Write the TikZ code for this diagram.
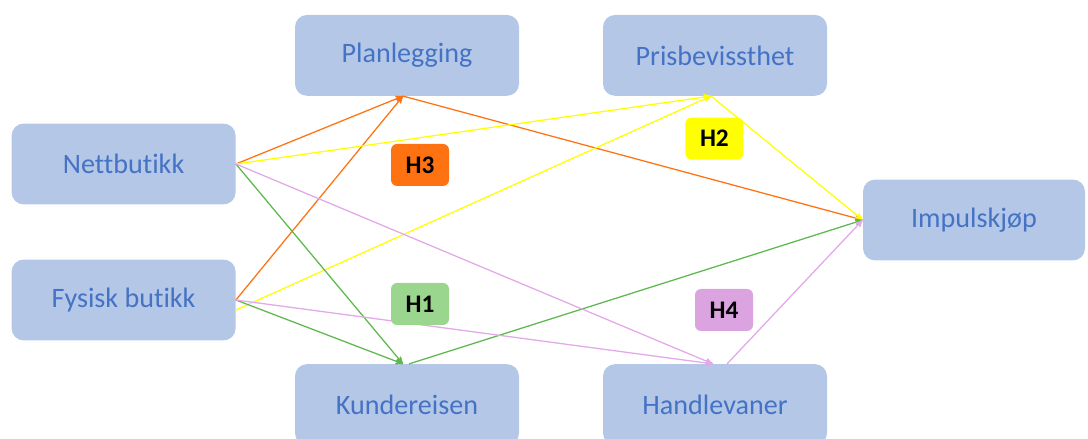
\documentclass[tikz,border=0pt]{standalone}
\usepackage{fontspec}
\setmainfont{Carlito}[Ligatures=NoCommon]
\usetikzlibrary{arrows, positioning}
\definecolor{boxfill}{HTML}{B4C7E7}
\definecolor{boxtext}{HTML}{4472C4}
\definecolor{hOrange}{HTML}{FF7212}
\definecolor{hYellow}{HTML}{FFFF00}
\definecolor{hGreen}{HTML}{5DB84E}
\definecolor{hPink}{HTML}{E2A8E8}
\definecolor{lblGreen}{HTML}{9AD68D}
\definecolor{lblPink}{HTML}{DBA3DF}
\tikzset{
  box/.style = {rectangle, rounded corners=0.3cm, fill=boxfill, text=boxtext,
    minimum width=5.6cm, minimum height=2.02cm, inner sep=0pt,
    font=\fontsize{20}{24}\selectfont},
  hyp/.style = {rectangle, rounded corners=0.15cm, inner sep=0pt,
    minimum width=1.45cm, minimum height=1.05cm,
    font=\fontsize{18}{22}\selectfont\bfseries},
  link/.style = {line width=0.9pt}
}

\begin{document}
\begin{tikzpicture}[->,>=stealth']
\useasboundingbox (0,0) rectangle (27.2,10.975);
\node [box] (nett) at (3.09,6.875) {Nettbutikk};
\node [box] (fysisk) at (3.09,3.475) {Fysisk butikk};
\node [box] (plan) at (10.175,9.59) {Planlegging};
\node [box] (pris) at (17.875,9.59) {Prisbevissthet};
\node [box] (kunde) at (10.175,0.86) {Kundereisen};
\node [box] (handle) at (17.875,0.86) {Handlevaner};
\node [box, minimum width=5.55cm] (imp) at (24.35,5.475) {Impulskjøp};

% H3
\draw [link, hOrange] (nett.east) -- ([xshift=-0.1cm]plan.south);
\draw [link, hOrange] (fysisk.east) -- ([xshift=-0.1cm]plan.south);
\draw [link, hOrange] ([xshift=-0.1cm]plan.south) -- (imp.west);
% H2
\draw [link, hYellow] (nett.east) -- ([xshift=-0.1cm]pris.south);
\draw [link, hYellow] ([yshift=-0.25cm]fysisk.east) -- ([xshift=-0.1cm]pris.south);
\draw [link, hYellow] ([xshift=-0.1cm]pris.south) -- (imp.west);
% H1
\draw [link, hGreen] (nett.east) -- ([xshift=-0.1cm]kunde.north);
\draw [link, hGreen] (fysisk.east) -- ([xshift=-0.1cm]kunde.north);
\draw [link, hGreen] ([xshift=0.05cm]kunde.north) -- (imp.west);
% H4
\draw [link, hPink] (nett.east) -- ([xshift=-0.05cm]handle.north);
\draw [link, hPink] (fysisk.east) -- ([xshift=-0.05cm]handle.north);
\draw [link, hPink] ([xshift=0.3cm]handle.north) -- (imp.west);

\node [hyp, fill=hOrange] (h3) at (10.5,6.85) {H3};
\node [hyp, fill=lblGreen] (h1) at (10.5,3.375) {H1};
\node [hyp, fill=hYellow] (h2) at (17.86,7.51) {H2};
\node [hyp, fill=lblPink] (h4) at (18.1,3.225) {H4};
\end{tikzpicture}
\end{document}
